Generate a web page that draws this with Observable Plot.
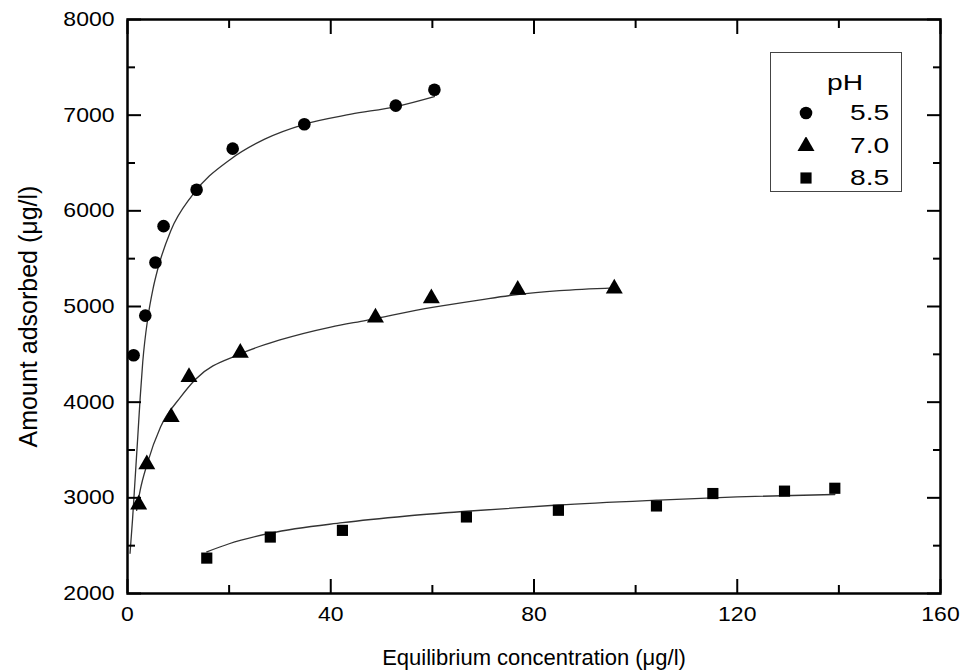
<!DOCTYPE html>
<html>
<head>
<meta charset="utf-8">
<script src="https://cdn.jsdelivr.net/npm/d3@7"></script>
<script src="https://cdn.jsdelivr.net/npm/@observablehq/plot@0.6"></script>
<style>
  body { margin: 0; background: #fff; font-family: "Liberation Sans", Arial, sans-serif; }
  #wrap { position: relative; width: 961px; height: 670px; }
  #legend { position: absolute; left: 770px; top: 52px; width: 130px; height: 138px;
            border: 1.5px solid #444; background: #fff; font-size: 22px; color: #000; }
  #legend .ttl { position: absolute; left: 56px; top: 17px; line-height: 26px;
                 display: inline-block; transform: scaleX(1.28); transform-origin: left center; }
  #legend .row { position: absolute; left: 0; width: 100%; height: 26px; }
  #legend .row svg { position: absolute; left: 26px; top: 4px; }
  #legend .row span { position: absolute; left: 79px; top: 0; line-height: 26px;
                      display: inline-block; transform: scaleX(1.28); transform-origin: left center; }
</style>
</head>
<body>
<div id="wrap"></div>
<script>
// ---- data ----
const phLabels = ["5.5", "7.0", "8.5"];

// measured points
const conc55 = [1.2, 3.5, 5.5, 7.1, 13.6, 20.7, 34.8, 52.8, 60.4];
const ads55  = [4490, 4905, 5460, 5840, 6220, 6650, 6905, 7100, 7265];
const conc70 = [2.2, 3.8, 8.6, 12.1, 22.2, 48.8, 59.8, 76.8, 95.8];
const ads70  = [2930, 3350, 3845, 4262, 4515, 4885, 5085, 5175, 5188];
const conc85 = [15.6, 28.1, 42.3, 66.7, 84.8, 104.1, 115.2, 129.3, 139.2];
const ads85  = [2370, 2590, 2660, 2800, 2870, 2915, 3045, 3070, 3100];

// fitted curves
const fitC55 = [0.5, 1.0, 1.5, 2.0, 2.5, 3.0, 4.0, 5.0, 6.0, 8.5, 12.7, 20.3, 27, 34.8, 44, 52.8, 60.4];
const fitQ55 = [2420, 2780, 3200, 3620, 4050, 4420, 4880, 5180, 5400, 5790, 6160, 6540, 6750, 6905, 7010, 7090, 7195];
const fitC70 = [1.8, 2.5, 3.9, 6.5, 10.4, 13.4, 22.2, 30, 40, 47, 60, 69.5, 76.7, 85, 95.7];
const fitQ70 = [2870, 3080, 3360, 3740, 4050, 4240, 4505, 4650, 4785, 4855, 4990, 5070, 5125, 5165, 5195];
const fitC85 = [15.6, 20, 28.1, 42.3, 55, 66.7, 84.8, 104.1, 120, 139.2];
const fitQ85 = [2435, 2520, 2630, 2740, 2810, 2860, 2925, 2975, 3010, 3035];

// axes
const xMajor = [0, 40, 80, 120, 160];
const xMinor = [20, 60, 100, 140];
const yMajor = [2000, 3000, 4000, 5000, 6000, 7000, 8000];
const yMinor = [2500, 3500, 4500, 5500, 6500, 7500];
const xTitle = "Equilibrium concentration (\u03bcg/l)";
const yTitle = "Amount adsorbed (\u03bcg/l)";
const legendTitle = "pH";
const symbols = ["circle", "triangle", "square"];

// ---- build tables ----
const pts = (C, Q, ph) => C.map((c, i) => ({c, q: Q[i], ph}));
const points = [
  ...pts(conc55, ads55, phLabels[0]),
  ...pts(conc70, ads70, phLabels[1]),
  ...pts(conc85, ads85, phLabels[2])
];
const fits = [
  ...pts(fitC55, fitQ55, phLabels[0]),
  ...pts(fitC70, fitQ70, phLabels[1]),
  ...pts(fitC85, fitQ85, phLabels[2])
];

const plain = d => String(d);

const chart = Plot.plot({
  width: 961,
  height: 670,
  marginLeft: 127,
  marginRight: 21,
  marginTop: 19,
  marginBottom: 77,
  style: { fontFamily: "'Liberation Sans', Arial, sans-serif", fontSize: "20px", color: "#000", background: "#fff" },
  x: { domain: [0, 160], label: null },
  y: { domain: [2000, 8000], label: null },
  symbol: { domain: phLabels, range: symbols },
  marks: [
    // fitted curves
    Plot.line(fits, { x: "c", y: "q", z: "ph", curve: "monotone-x", stroke: "#333", strokeWidth: 1.3 }),
    // data points
    Plot.dot(points, { x: "c", y: "q", symbol: "ph", fill: "#000", stroke: "none", r: 6.3 }),
    // frame
    Plot.frame({ stroke: "#000", strokeWidth: 2.5 }),
    // tick labels
    Plot.axisX({ ticks: xMajor, tickSize: 0, tickPadding: 13, label: null, fontSize: 20, tickFormat: plain }),
    Plot.axisY({ ticks: yMajor, tickSize: 0, tickPadding: 13, label: null, fontSize: 20, tickFormat: plain }),
    // inward ticks, all four sides
    Plot.axisX({ anchor: "bottom", ticks: xMajor, tickSize: -14, fill: "none", label: null, strokeWidth: 2 }),
    Plot.axisX({ anchor: "bottom", ticks: xMinor, tickSize: -8, fill: "none", label: null, strokeWidth: 2 }),
    Plot.axisX({ anchor: "top", ticks: xMajor, tickSize: -14, fill: "none", label: null, strokeWidth: 2 }),
    Plot.axisX({ anchor: "top", ticks: xMinor, tickSize: -8, fill: "none", label: null, strokeWidth: 2 }),
    Plot.axisY({ anchor: "left", ticks: yMajor, tickSize: -14, fill: "none", label: null, strokeWidth: 2 }),
    Plot.axisY({ anchor: "left", ticks: yMinor, tickSize: -8, fill: "none", label: null, strokeWidth: 2 }),
    Plot.axisY({ anchor: "right", ticks: yMajor, tickSize: -14, fill: "none", label: null, strokeWidth: 2 }),
    Plot.axisY({ anchor: "right", ticks: yMinor, tickSize: -8, fill: "none", label: null, strokeWidth: 2 }),
    // axis titles
    Plot.text([xTitle], { text: d => d, frameAnchor: "bottom", textAnchor: "middle", lineAnchor: "middle",
                          dy: 64, fontSize: 22, fill: "#000" }),
    Plot.text([yTitle], { text: d => d, frameAnchor: "left", textAnchor: "middle", lineAnchor: "middle",
                          dx: -99, dy: 10, rotate: -90, fontSize: 25, fill: "#000" })
  ]
});

// widen tick labels horizontally, like the reference's stretched lettering
chart.querySelectorAll('g[aria-label="x-axis tick label"] text, g[aria-label="y-axis tick label"] text')
  .forEach(t => t.setAttribute("transform", (t.getAttribute("transform") || "") + " scale(1.15,1)"));

const wrap = document.getElementById("wrap");
wrap.appendChild(chart);

// legend (HTML overlay inside the plot area)
const legend = document.createElement("div");
legend.id = "legend";
const ttl = document.createElement("div");
ttl.className = "ttl";
ttl.textContent = legendTitle;
legend.appendChild(ttl);
const symGen = { circle: d3.symbolCircle, triangle: d3.symbolTriangle, square: d3.symbolSquare };
phLabels.forEach((lab, i) => {
  const row = document.createElement("div");
  row.className = "row";
  row.style.top = (47 + i * 32.5) + "px";
  const s = d3.create("svg").attr("width", 18).attr("height", 18);
  s.append("path")
    .attr("transform", "translate(9,9)")
    .attr("d", d3.symbol(symGen[symbols[i]], Math.PI * 6.3 * 6.3)())
    .attr("fill", "#000");
  row.appendChild(s.node());
  const sp = document.createElement("span");
  sp.textContent = lab;
  row.appendChild(sp);
  legend.appendChild(row);
});
wrap.appendChild(legend);
</script>
</body>
</html>
